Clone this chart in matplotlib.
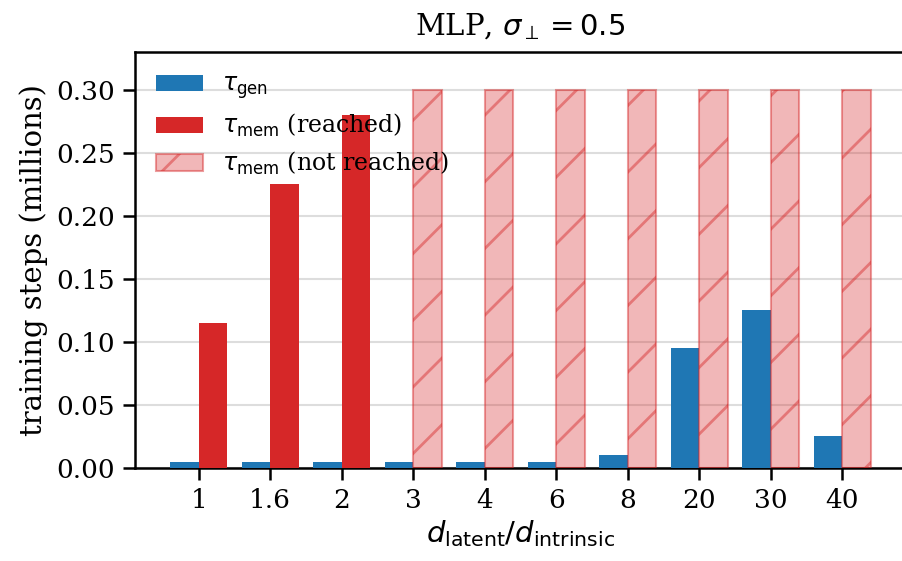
import matplotlib
matplotlib.use("Agg")
import matplotlib.pyplot as plt
import numpy as np

plt.rcParams["font.family"] = "DejaVu Serif"
plt.rcParams["mathtext.fontset"] = "dejavusans"
plt.rcParams["hatch.linewidth"] = 1.0

ratios = ["1", "1.6", "2", "3", "4", "6", "8", "20", "30", "40"]
tau_gen = [0.005, 0.005, 0.005, 0.005, 0.005, 0.005, 0.010, 0.095, 0.125, 0.025]
tau_mem = [0.115, 0.225, 0.280, None, None, None, None, None, None, None]
max_steps = 0.30

fig = plt.figure(figsize=(4.515, 2.805), dpi=200)
ax = fig.add_axes([135 / 903, 93 / 561, 771 / 903, 416 / 561])

x = np.arange(len(ratios))
w = 0.4
red = "#d62728"
blue = "#1f77b4"

ax.bar(x - w / 2, tau_gen, width=w, color=blue, label=r"$\tau_{\mathrm{gen}}$", zorder=3)

reached = [i for i, v in enumerate(tau_mem) if v is not None]
missing = [i for i, v in enumerate(tau_mem) if v is None]
ax.bar(x[reached] + w / 2, [tau_mem[i] for i in reached], width=w, color=red,
       label=r"$\tau_{\mathrm{mem}}$ (reached)", zorder=3)
ax.bar(x[missing] + w / 2, [max_steps] * len(missing), width=w,
       facecolor=(0.839, 0.153, 0.157, 0.33), edgecolor=(0.839, 0.153, 0.157, 0.45),
       hatch="/", linewidth=0.75, label=r"$\tau_{\mathrm{mem}}$ (not reached)", zorder=3)

ax.set_ylim(0, 0.33)
ax.set_yticks(np.arange(0, 0.301, 0.05))
ax.set_yticklabels([f"{v:.2f}" for v in np.arange(0, 0.301, 0.05)])
ax.set_xticks(x)
ax.set_xticklabels(ratios)
ax.tick_params(labelsize=9.5, width=0.9, length=4.25, pad=3)
ax.yaxis.grid(True, color="#dddddd", linewidth=0.75, zorder=0)
ax.set_axisbelow(True)
for s in ax.spines.values():
    s.set_linewidth(0.9)

ax.set_xlabel(r"$d_{\mathrm{latent}}/d_{\mathrm{intrinsic}}$", fontsize=10.5, labelpad=2)
ax.set_ylabel("training steps (millions)", fontsize=10.5, labelpad=3)
ax.set_title(r"MLP, $\sigma_\perp = 0.5$", fontsize=10.5, pad=6)

ax.legend(loc="upper left", fontsize=8.5, frameon=False, handlelength=2.0,
          labelspacing=0.45)

fig.savefig("out.png", dpi=200)
